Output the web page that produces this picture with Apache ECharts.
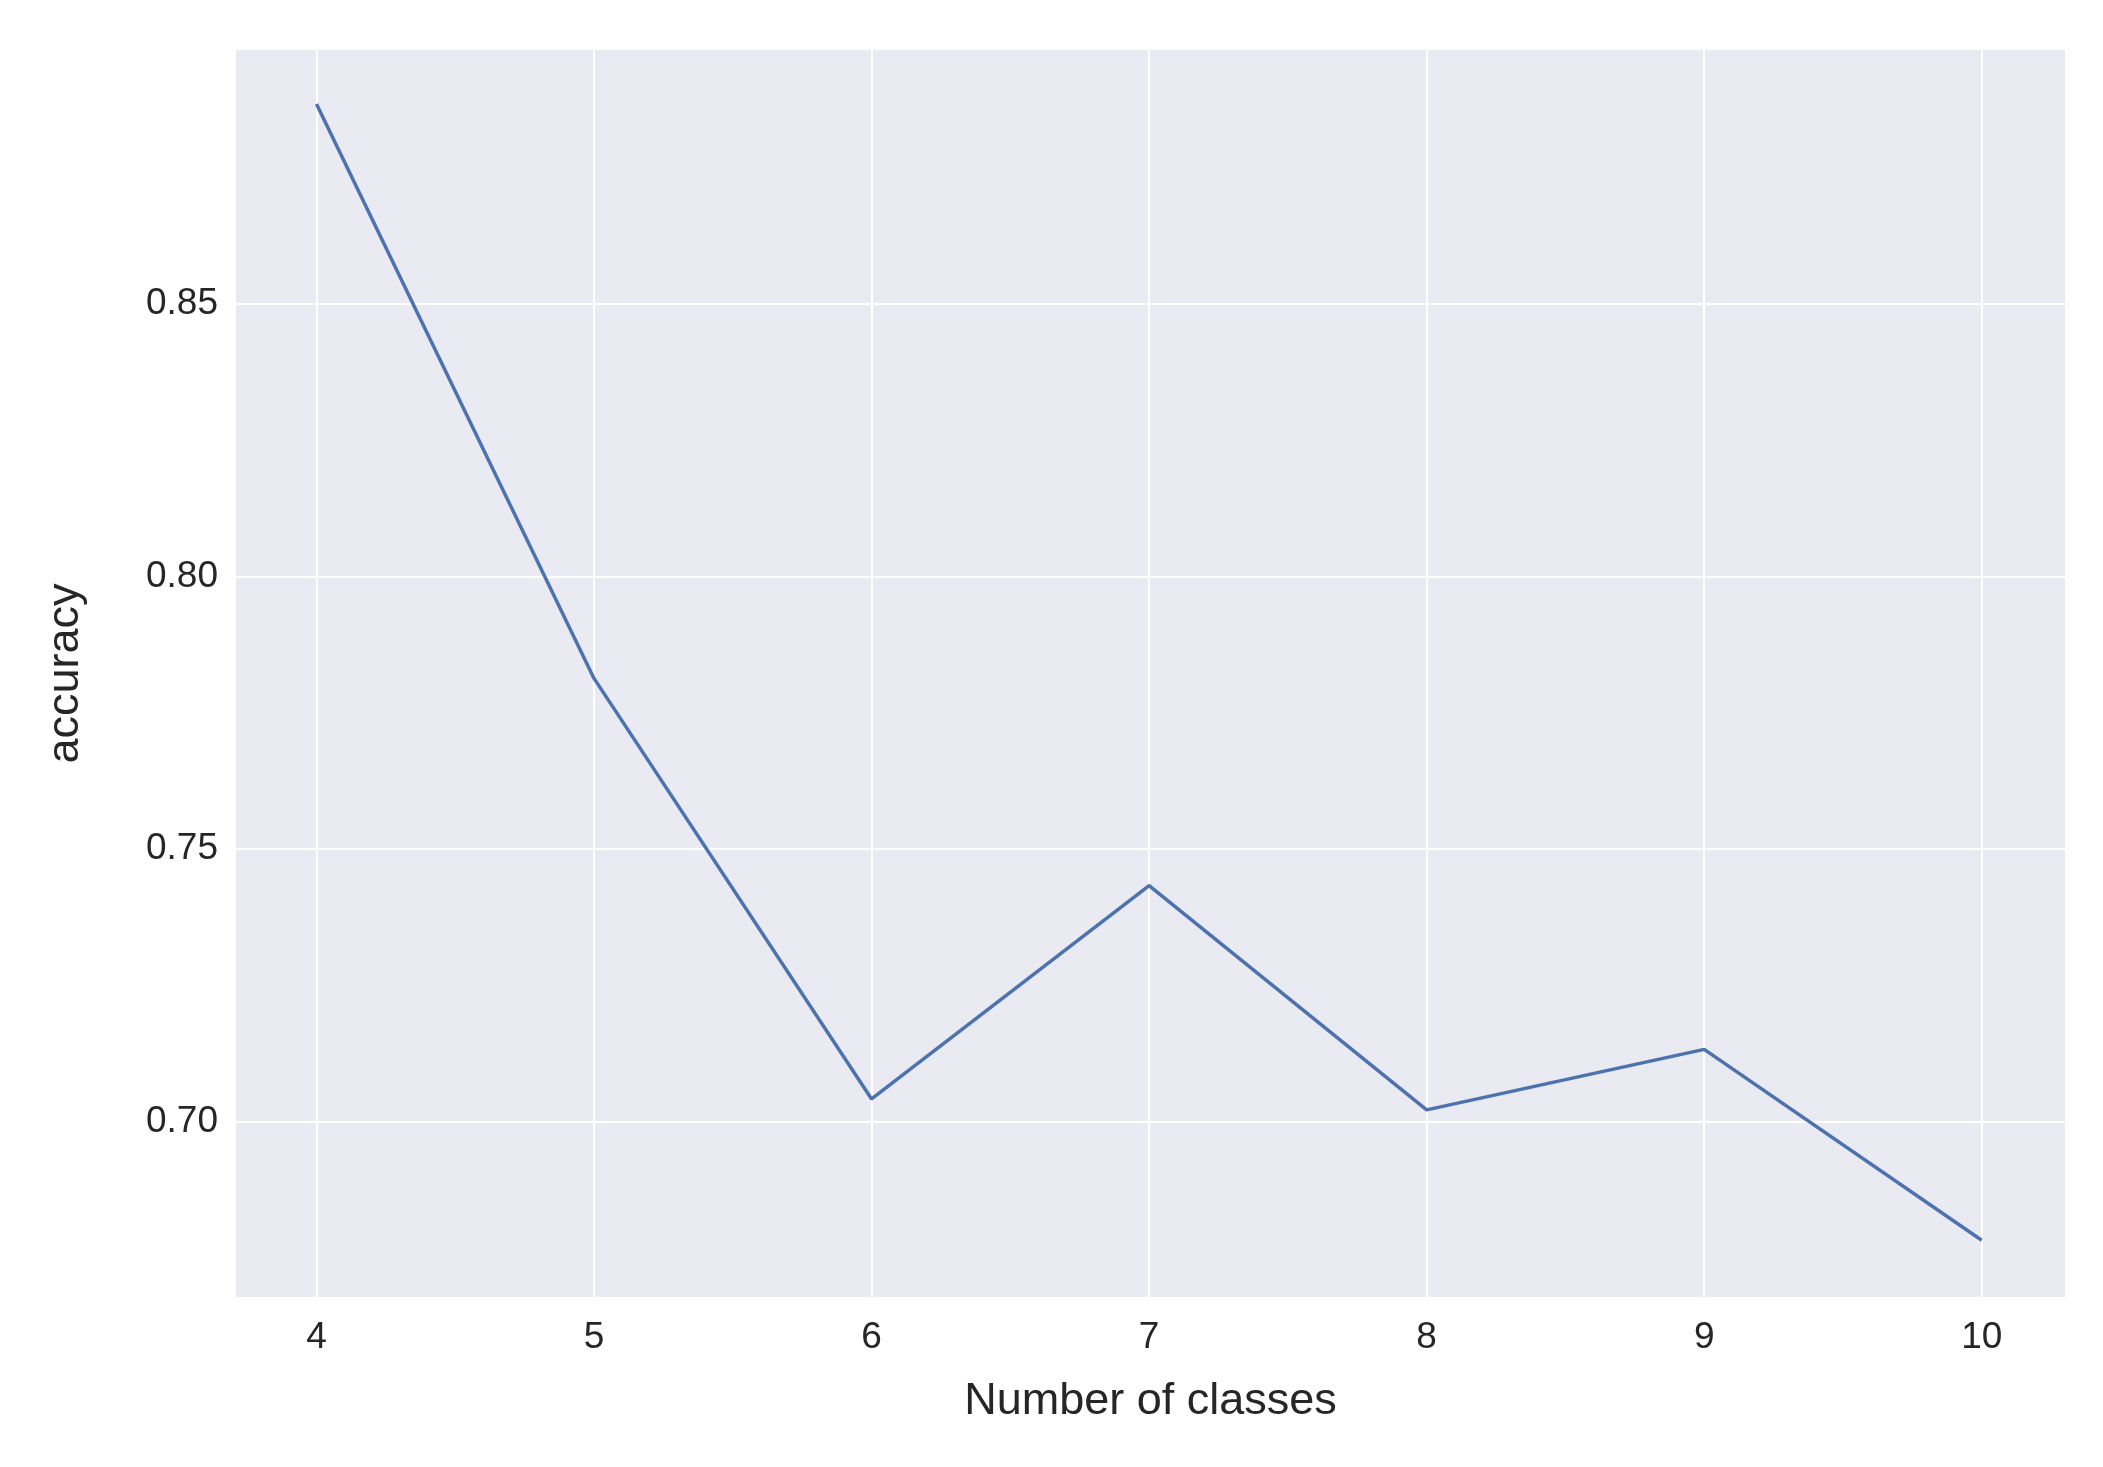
<!DOCTYPE html>
<html>
<head>
<meta charset="utf-8">
<script src="https://cdn.jsdelivr.net/npm/echarts@6/dist/echarts.min.js"></script>
<style>html,body{margin:0;padding:0;background:#fff;}#chart{width:2103px;height:1467px;}</style>
</head>
<body>
<div id="chart"></div>
<script>
var classes = [4, 5, 6, 7, 8, 9, 10];
var accuracy = [0.8866, 0.7813, 0.7042, 0.7433, 0.7022, 0.7133, 0.6783];
var xTicks = [4, 5, 6, 7, 8, 9, 10];
var yTicks = [0.70, 0.75, 0.80, 0.85];

var chart = echarts.init(document.getElementById('chart'));
var font = 'Liberation Sans, Arial, sans-serif';
chart.setOption({
  animation: false,
  grid: {left: 236, right: 38, top: 50, bottom: 170, show: true, backgroundColor: '#eaeaf2', borderWidth: 0},
  xAxis: {
    type: 'value', min: 3.71, max: 10.3,
    name: 'Number of classes', nameLocation: 'middle', nameGap: 82,
    nameTextStyle: {fontSize: 45, color: '#262626', fontFamily: font},
    axisLine: {show: false}, axisTick: {show: false, customValues: xTicks},
    axisLabel: {customValues: xTicks, fontSize: 37, color: '#262626', margin: 22, fontFamily: font},
    splitLine: {show: true, lineStyle: {color: '#ffffff', width: 2}}
  },
  yAxis: {
    type: 'value', min: 0.6679, max: 0.8965,
    name: 'accuracy', nameLocation: 'middle', nameGap: 148,
    nameTextStyle: {fontSize: 45, color: '#262626', fontFamily: font},
    axisLine: {show: false}, axisTick: {show: false, customValues: yTicks},
    axisLabel: {customValues: yTicks, fontSize: 37, color: '#262626', margin: 18, fontFamily: font,
      formatter: function (v) { return v.toFixed(2); }},
    splitLine: {show: true, lineStyle: {color: '#ffffff', width: 2}}
  },
  series: [{
    type: 'line', symbol: 'none',
    data: classes.map(function (c, i) { return [c, accuracy[i]]; }),
    lineStyle: {color: '#4c72b0', width: 3.5}
  }]
});
</script>
</body>
</html>
